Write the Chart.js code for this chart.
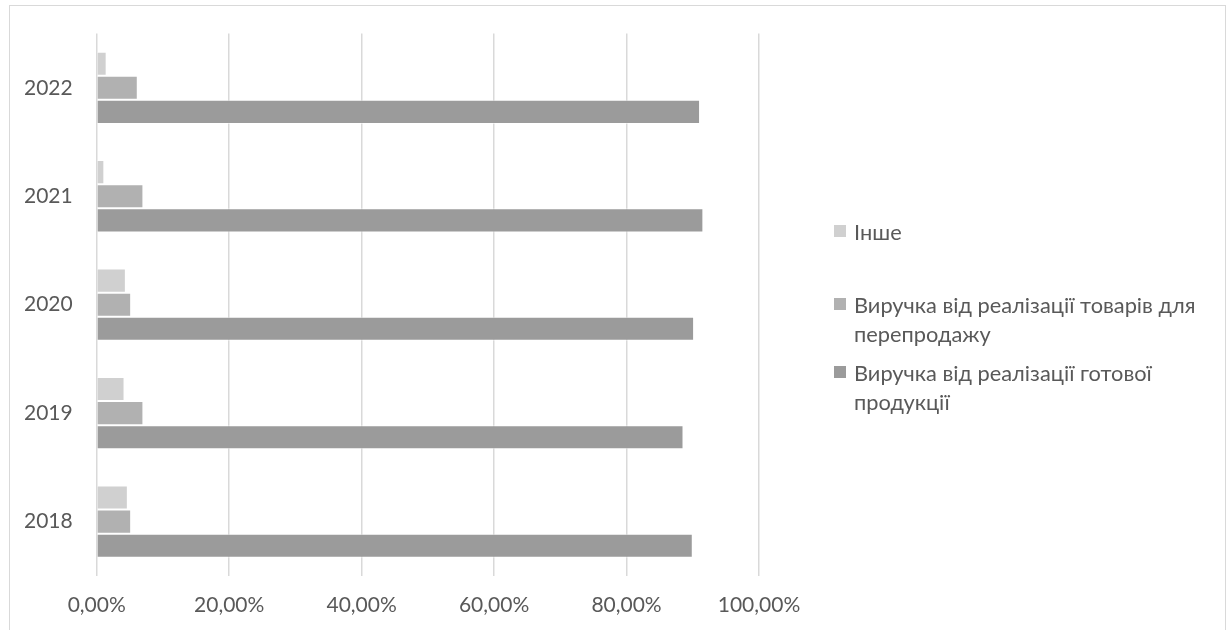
<!DOCTYPE html>
<html lang="uk">
<head>
<meta charset="utf-8">
<title>Структура виручки</title>
<script src="https://cdn.jsdelivr.net/npm/chart.js@4"></script>
<style>
  html, body { margin: 0; padding: 0; background: #fff; }
  #wrap { position: relative; width: 1229px; height: 630px; overflow: hidden; }
  #box { position: absolute; left: 0; top: -3px; width: 1229px; height: 638px; }
  #frame {
    position: absolute; left: 9px; top: 5px; width: 1217px; height: 700px;
    border: 1px solid #d9d9d9; box-sizing: border-box; pointer-events: none;
  }
  .leg {
    position: absolute; left: 834px;
    font-family: Lato, "Open Sans", sans-serif; font-size: 21.8px; line-height: 29px;
    color: #595959; white-space: nowrap;
  }
  .leg .sq { position: absolute; left: 0; width: 12px; height: 12px; }
  .leg .tx { position: absolute; left: 20px; top: 0; }
</style>
</head>
<body>
<div id="wrap">
  <div id="box"><canvas id="chart-rev"></canvas></div>
  <div id="frame"></div>
  <div id="legend"></div>
</div>
<script>
  // ── Дані ──
  const years = ['2022', '2021', '2020', '2019', '2018'];
  const seriesNames = [
    'Інше',
    'Виручка від реалізації товарів для перепродажу',
    'Виручка від реалізації готової продукції',
  ];
  const other    = [1.5, 1.15, 4.4, 4.2, 4.7];
  const resale   = [6.2, 7.05, 5.2, 7.05, 5.2];
  const finished = [91.1, 91.6, 90.2, 88.6, 90.0];
  const xTicks = [0, 20, 40, 60, 80, 100];

  // Візуальні налаштування
  const textColor = '#595959';
  const gridColor = '#d9d9d9';
  const fontFamily = 'Lato, "Open Sans", sans-serif';
  const colors = ['#d0d0d0', '#b1b1b1', '#9b9b9b'];

  const pct = v => v.toFixed(2).replace('.', ',') + '%';

  const datasets = [other, resale, finished].map((data, i) => ({
    label: seriesNames[i],
    data,
    backgroundColor: colors[i],
    borderColor: 'rgba(255,255,255,0.55)',
    borderWidth: 1,
    categoryPercentage: 2 / 3,
    barPercentage: 1,
  }));

  new Chart(document.getElementById('chart-rev'), {
    type: 'bar',
    data: { labels: years, datasets },
    options: {
      indexAxis: 'y',
      responsive: true,
      maintainAspectRatio: false,
      animation: false,
      layout: { padding: { left: 0, top: 21, right: 470, bottom: 0 } },
      plugins: {
        legend: { display: false },
        tooltip: { callbacks: { label: ctx => ' ' + ctx.dataset.label + ': ' + pct(ctx.raw) } },
      },
      scales: {
        x: {
          min: 0,
          max: 100,
          afterBuildTicks: axis => { axis.ticks = xTicks.map(v => ({ value: v })); },
          ticks: {
            color: textColor,
            font: { family: fontFamily, size: 21 },
            padding: 17,
            maxRotation: 0,
            callback: v => pct(v),
          },
          grid: { color: gridColor, lineWidth: 1.5, drawTicks: false },
          border: { display: false },
        },
        y: {
          ticks: {
            color: textColor,
            font: { family: fontFamily, size: 21 },
            padding: 24,
          },
          grid: { display: false, drawTicks: false },
          border: { display: false },
        },
      },
    },
  });

  // ── Легенда (перенос рядків як у підписах серій) ──
  const legendItems = [
    { lines: ['Інше'], top: 217 },
    { lines: ['Виручка від реалізації товарів для', 'перепродажу'], top: 290 },
    { lines: ['Виручка від реалізації готової', 'продукції'], top: 358 },
  ];
  const legEl = document.getElementById('legend');
  legendItems.forEach((it, i) => {
    legEl.insertAdjacentHTML(
      'beforeend',
      `<div class="leg" style="top:${it.top}px"><span class="sq" style="top:8px;background:${colors[i]}"></span>` +
      `<span class="tx">${it.lines.join('<br>')}</span></div>`
    );
  });
</script>
</body>
</html>
